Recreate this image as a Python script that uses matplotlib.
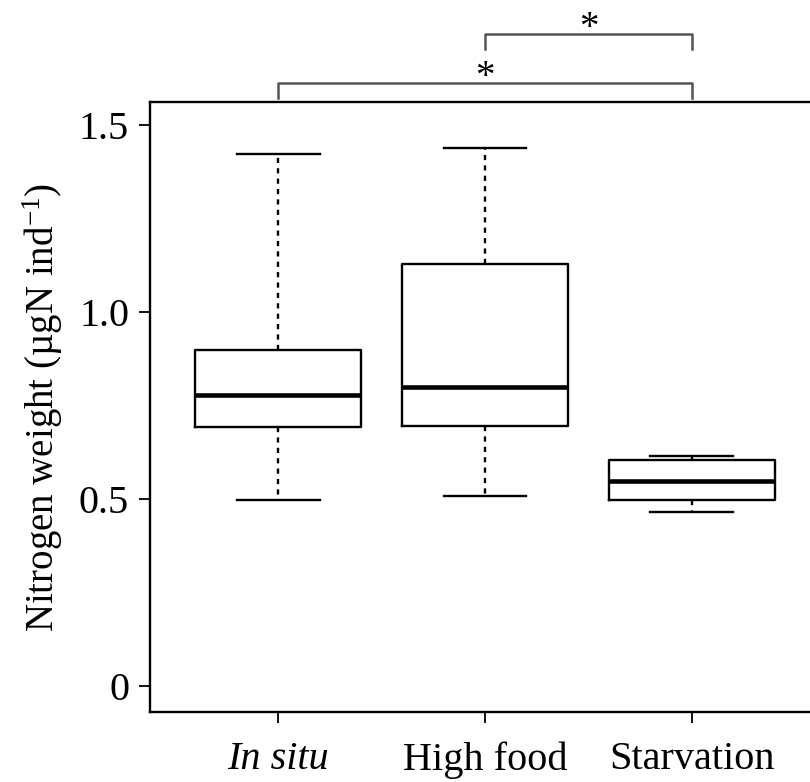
import matplotlib
matplotlib.use("Agg")
import matplotlib.pyplot as plt

plt.rcParams["font.family"] = ["Liberation Serif", "DejaVu Serif"]
plt.rcParams["mathtext.fontset"] = "custom"
plt.rcParams["mathtext.rm"] = "Liberation Serif"
plt.rcParams["mathtext.it"] = "Liberation Serif:italic"

groups = ["In situ", "High food", "Starvation"]
whis_lo = [0.497, 0.507, 0.465]
q1 = [0.691, 0.695, 0.497]
median = [0.778, 0.799, 0.548]
q3 = [0.898, 1.128, 0.604]
whis_hi = [1.422, 1.438, 0.615]

# significance brackets: (left group, right group)
pairs = [(1, 3), (2, 3)]
bracket_y = [1.612, 1.743]
marks = ["*", "*"]

stats = []
for i, g in enumerate(groups):
    stats.append({
        "label": g,
        "whislo": whis_lo[i],
        "q1": q1[i],
        "med": median[i],
        "q3": q3[i],
        "whishi": whis_hi[i],
        "fliers": [],
    })

fig = plt.figure(figsize=(8.1, 7.82), dpi=100)
ax = fig.add_axes([150 / 810, 70 / 782, 670 / 810, 610 / 782])

ax.bxp(
    stats,
    positions=[1, 2, 3],
    widths=0.8,
    showfliers=False,
    boxprops=dict(color="black", linewidth=1.7),
    medianprops=dict(color="black", linewidth=3.3),
    whiskerprops=dict(color="black", linewidth=1.7, linestyle=(0, (2.2, 2.2))),
    capprops=dict(color="black", linewidth=1.7),
    capwidths=0.4,
)

ax.set_xlim(0.38, 3.62)
ax.set_ylim(-0.07, 1.561)
ax.set_yticks([0, 0.5, 1.0, 1.5])
ax.set_yticklabels(["0", "0.5", "1.0", "1.5"])
ax.set_xticks([1, 2, 3])
ax.set_xticklabels(groups)
ax.get_xticklabels()[0].set_style("italic")

ax.tick_params(axis="both", direction="out", length=8, width=1.3,
               labelsize=29, colors="black")
ax.tick_params(axis="x", pad=13)
ax.tick_params(axis="y", pad=7)

for side in ["left", "bottom", "top"]:
    ax.spines[side].set_linewidth(1.7)
ax.spines["right"].set_visible(False)

ax.set_ylabel(r"Nitrogen weight (µgN ind$^{\mathrm{-1}}$)", fontsize=28, labelpad=10)

# brackets above the plot
for (a, b), y, m in zip(pairs, bracket_y, marks):
    ax.plot([a, a, b, b], [y - 0.04, y, y, y - 0.04], color="#555555",
            linewidth=1.8, clip_on=False)
    ax.text((a + b) / 2, y - 0.035, m, ha="center", va="bottom",
            fontsize=28, color="black", clip_on=False)

plt.savefig("out.png", dpi=100)
plt.close()
